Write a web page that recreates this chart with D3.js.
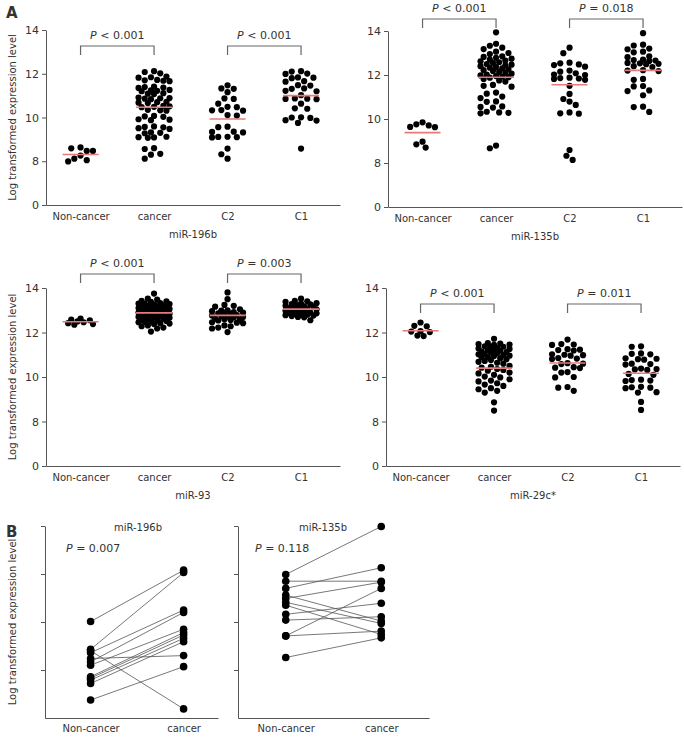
<!DOCTYPE html>
<html><head><meta charset="utf-8">
<script src="https://cdn.jsdelivr.net/npm/d3@7"></script>
<style>
body{margin:0;background:#fff}
svg{display:block}
text{font-family:"DejaVu Sans",sans-serif;fill:#333}
</style>
</head><body><svg id="c" width="684" height="740"></svg>
<script>
// ---------------- DATA ----------------
const groups = ["Non-cancer", "cancer", "C2", "C1"];
const yTickValues = [0, 8, 10, 12, 14];
const yTitle = "Log transformed expression level";

// miR-196b
const mir196b_nonCancer = [8.63, 8.59, 8.47, 8.47, 8.26, 8.12, 8.05, 7.97];
const mir196b_cancer = [12.12,12.08,12.02,11.87,11.84,11.82,11.72,11.70,11.68,11.66,11.41,11.39,11.37,11.35,11.26,11.24,11.22,11.20,11.11,11.09,11.07,10.91,10.89,10.88,10.86,10.84,10.72,10.70,10.68,10.66,10.53,10.51,10.49,10.47,10.35,10.33,10.31,10.07,10.05,10.03,9.92,9.90,9.88,9.59,9.57,9.55,9.51,9.48,9.32,9.30,9.28,9.12,9.10,9.09,9.07,8.60,8.56,8.34,8.30,8.12];
const mir196b_C2 = [11.47,11.33,11.31,11.16,10.87,10.85,10.63,10.49,10.47,10.34,10.33,10.31,10.11,10.09,9.58,9.56,9.35,9.34,9.32,9.12,9.11,9.10,9.09,8.58,8.32,8.12];
const mir196b_C1 = [12.12,12.10,12.01,11.99,11.83,11.82,11.80,11.66,11.64,11.48,11.46,11.33,11.31,11.22,11.20,11.02,10.87,10.86,10.85,10.84,10.63,10.42,10.40,10.01,10.00,9.98,9.88,9.86,9.75,8.58];
const mir196b_means = [8.31, 10.47, 9.93, 11.0];
const mir196b_p = ["< 0.001", "< 0.001"];

// miR-135b
const mir135b_nonCancer = [9.85, 9.76, 9.71, 9.64, 9.63, 8.97, 8.85, 8.70];
const mir135b_cancer = [13.94,13.42,13.33,13.24,13.18,13.06,13.00,12.95,12.85,12.82,12.78,12.74,12.70,12.66,12.62,12.58,12.55,12.50,12.47,12.44,12.40,12.36,12.33,12.30,12.26,12.22,12.18,12.14,12.10,12.06,12.02,11.98,11.95,11.92,11.90,11.88,11.82,11.75,11.70,11.55,11.51,11.47,11.20,11.15,11.02,10.95,10.80,10.78,10.57,10.55,10.52,10.33,10.30,10.28,10.26,8.79,8.67];
const mir135b_C2 = [13.24,12.99,12.56,12.53,12.48,12.45,12.38,12.20,12.15,12.08,12.02,12.00,11.88,11.86,11.84,11.82,11.78,11.51,11.14,10.91,10.79,10.64,10.30,10.26,10.24,8.59,8.33,8.14];
const mir135b_C1 = [13.90,13.38,13.34,13.20,13.17,13.06,13.03,12.85,12.81,12.70,12.68,12.66,12.64,12.55,12.53,12.51,12.49,12.40,12.36,12.22,12.20,12.18,11.82,11.78,11.50,11.48,11.30,11.27,11.08,10.56,10.54,10.32];
const mir135b_means = [9.38, 11.9, 11.56, 12.21];
const mir135b_p = ["< 0.001", "= 0.018"];

// miR-93
const mir93_nonCancer = [12.62, 12.58, 12.55, 12.50, 12.46, 12.42, 12.38, 12.35];
const mir93_cancer = [13.75,13.52,13.48,13.42,13.40,13.38,13.32,13.30,13.30,13.28,13.26,13.22,13.20,13.20,13.18,13.16,13.12,13.10,13.10,13.08,13.06,13.04,13.02,13.00,13.00,12.98,12.96,12.94,12.92,12.90,12.90,12.88,12.86,12.84,12.82,12.80,12.80,12.78,12.76,12.72,12.70,12.70,12.68,12.66,12.62,12.60,12.58,12.56,12.52,12.50,12.48,12.46,12.42,12.40,12.38,12.32,12.28,12.22,12.18,12.04];
const mir93_C2 = [13.80,13.50,13.24,13.20,13.16,13.04,13.00,12.98,12.96,12.92,12.90,12.88,12.86,12.84,12.78,12.76,12.74,12.72,12.70,12.68,12.62,12.60,12.58,12.56,12.54,12.46,12.44,12.42,12.32,12.28,12.22,12.18,12.02];
const mir93_C1 = [13.52,13.42,13.40,13.38,13.32,13.30,13.28,13.26,13.22,13.20,13.18,13.16,13.14,13.10,13.08,13.06,13.04,13.00,12.98,12.96,12.94,12.90,12.88,12.86,12.84,12.82,12.80,12.78,12.76,12.74,12.70,12.68,12.55];
const mir93_means = [12.48, 12.88, 12.77, 13.05];
const mir93_p = ["< 0.001", "= 0.003"];

// miR-29c*
const mir29c_nonCancer = [12.45, 12.30, 12.28, 12.06, 12.04, 12.02, 11.86, 11.84];
const mir29c_cancer = [11.72,11.52,11.50,11.48,11.46,11.44,11.38,11.36,11.34,11.30,11.28,11.26,11.22,11.20,11.18,11.14,11.12,11.10,11.06,11.04,11.02,10.98,10.96,10.94,10.90,10.88,10.84,10.80,10.76,10.72,10.68,10.64,10.60,10.50,10.46,10.42,10.36,10.32,10.28,10.20,10.16,10.10,10.02,9.98,9.90,9.84,9.80,9.72,9.66,9.60,9.50,9.45,9.38,9.30,8.86,8.49];
const mir29c_C2 = [11.68,11.48,11.46,11.44,11.25,11.23,11.21,11.19,11.02,11.00,10.98,10.96,10.85,10.83,10.81,10.62,10.60,10.58,10.44,10.42,10.40,10.22,10.20,10.00,9.98,9.55,9.52,9.38];
const mir29c_C1 = [11.38,11.36,11.06,11.04,11.02,10.84,10.82,10.80,10.78,10.60,10.58,10.56,10.38,10.36,10.34,10.32,10.14,10.10,9.88,9.86,9.84,9.82,9.56,9.54,9.52,9.50,9.32,9.30,8.88,8.52];
const mir29c_means = [12.08, 10.4, 10.63, 10.17];
const mir29c_p = ["< 0.001", "= 0.011"];

// Panel B paired data (unitless scale, no tick labels)
const pairedGroups = ["Non-cancer", "cancer"];
const paired196b_nonCancer = [2.01, 1.43, 1.40, 1.36, 1.24, 1.17, 1.10, 0.86, 0.83, 0.79, 0.72, 0.375];
const paired196b_cancer    = [3.08, 3.03, 0.19, 2.25, 1.30, 2.20, 1.85, 1.78, 1.73, 1.66, 1.59, 1.07];
const paired196b_p = "= 0.007";
const paired135b_nonCancer = [2.99, 2.85, 2.70, 2.56, 2.49, 2.41, 2.35, 2.16, 2.04, 1.71, 1.71, 1.26];
const paired135b_cancer    = [3.99, 2.85, 3.13, 2.02, 2.83, 1.97, 1.74, 2.39, 2.11, 2.70, 1.81, 1.67];
const paired135b_p = "= 0.118";

// ---------------- DRAWING ----------------
const svg = d3.select("#c");
const axisColor = "#555";
const meanColor = "#e77b7b";

// compact beeswarm limited to a maximum half-width (points may overlap when crowded)
function swarm(values, yScale, r, maxW) {
  const pts = values.map(v => ({v, y: yScale(v), x: 0})).sort((a, b) => a.y - b.y);
  const placed = [];
  const minD = 2 * r + 0.3;
  const step = r;
  const cands = [0];
  for (let k = 1; k * step <= maxW; k++) { cands.push(-k * step, k * step); }
  for (const p of pts) {
    let best = 0, bestD = -1;
    for (const off of cands) {
      let md = Infinity;
      for (const q of placed) {
        const dy = q.y - p.y;
        if (Math.abs(dy) >= minD) continue;
        const d = Math.hypot(q.x - off, dy);
        if (d < md) md = d;
      }
      if (md >= minD) { best = off; bestD = md; break; }
      if (md > bestD + 0.01) { bestD = md; best = off; }
    }
    p.x = best;
    placed.push(p);
  }
  return pts;
}

function pLabel(g, x, y, rest, anchor) {
  const t = g.append("text").attr("x", x).attr("y", y).attr("text-anchor", anchor || "middle")
    .style("font-size", "11px");
  t.append("tspan").style("font-style", "italic").text("P");
  t.append("tspan").text(" " + rest);
}

function scatterPanel(cfg) {
  const g = svg.append("g");
  const q = (cfg.y0 - cfg.y14) / 4;
  const y = d3.scaleLinear().domain([0, 8, 14]).range([cfg.y0, cfg.y0 - q, cfg.y14]);
  const x = d3.scalePoint().domain(groups).range([cfg.ax, cfg.ax + 294]).padding(0.5).align(0.47);

  const ya = g.append("g").attr("transform", `translate(${cfg.ax},0)`)
    .call(d3.axisLeft(y).tickValues(yTickValues).tickSize(4).tickSizeOuter(0).tickPadding(3));
  ya.select(".domain").attr("stroke", axisColor);
  ya.selectAll(".tick line").attr("stroke", axisColor);
  ya.selectAll("text").style("font-size", "11px").attr("fill", "#333").style("font-family", "'DejaVu Sans',sans-serif");

  const xa = g.append("g").attr("transform", `translate(0,${cfg.y0})`)
    .call(d3.axisBottom(x).tickSize(0).tickSizeOuter(0).tickPadding(8));
  xa.select(".domain").attr("stroke", axisColor);
  xa.selectAll("text").style("font-size", "10px").attr("fill", "#333").style("font-family", "'DejaVu Sans',sans-serif");

  cfg.series.forEach((vals, i) => {
    const pts = swarm(vals, y, 3.1, i === 0 ? 14 : 16);
    g.append("g").selectAll("circle").data(pts).join("circle")
      .attr("cx", d => x(groups[i]) + d.x).attr("cy", d => d.y).attr("r", 3.1).attr("fill", "#000");
  });
  g.append("g").selectAll("line").data(cfg.means).join("line")
    .attr("x1", (d, i) => x(groups[i]) - 18).attr("x2", (d, i) => x(groups[i]) + 18)
    .attr("y1", d => y(d)).attr("y2", d => y(d))
    .attr("stroke", meanColor).attr("stroke-width", 1.6);

  // brackets
  [[0, 1], [2, 3]].forEach((pair, k) => {
    const x1 = x(groups[pair[0]]), x2 = x(groups[pair[1]]);
    g.append("path").attr("d", `M${x1},${cfg.by + 9}V${cfg.by}H${x2}V${cfg.by + 9}`)
      .attr("fill", "none").attr("stroke", "#666").attr("stroke-width", 1.2);
    pLabel(g, (x1 + x2) / 2, cfg.by - 7, cfg.p[k]);
  });

  g.append("text").attr("x", cfg.ax + 147).attr("y", cfg.y0 + 33).attr("text-anchor", "middle")
    .style("font-size", "10px").text(cfg.name);
  if (cfg.title) {
    g.append("text").attr("transform", `translate(12,${(cfg.y0 + cfg.y14) / 2}) rotate(-90)`)
      .attr("text-anchor", "middle").attr("dy", "0.35em").style("font-size", "10px").text(yTitle);
  }
}

scatterPanel({ax: 46, y14: 30, y0: 205, by: 46, name: "miR-196b", title: true,
  series: [mir196b_nonCancer, mir196b_cancer, mir196b_C2, mir196b_C1], means: mir196b_means, p: mir196b_p});
scatterPanel({ax: 388, y14: 31, y0: 207, by: 19, name: "miR-135b", title: false,
  series: [mir135b_nonCancer, mir135b_cancer, mir135b_C2, mir135b_C1], means: mir135b_means, p: mir135b_p});
scatterPanel({ax: 46, y14: 288, y0: 466, by: 274, name: "miR-93", title: true,
  series: [mir93_nonCancer, mir93_cancer, mir93_C2, mir93_C1], means: mir93_means, p: mir93_p});
scatterPanel({ax: 386, y14: 288, y0: 466, by: 304, name: "miR-29c*", title: false,
  series: [mir29c_nonCancer, mir29c_cancer, mir29c_C2, mir29c_C1], means: mir29c_means, p: mir29c_p});

function pairedPanel(cfg) {
  const g = svg.append("g");
  const y = d3.scaleLinear().domain([0, 4]).range([718, 526]);
  const x = d3.scalePoint().domain(pairedGroups).range([cfg.ax, cfg.ax2]).padding(cfg.pad).align(cfg.align);
  const ya = g.append("g").attr("transform", `translate(${cfg.ax},0)`)
    .call(d3.axisLeft(y).tickValues([1, 2, 3, 4]).tickFormat("").tickSize(4).tickSizeOuter(0));
  ya.select(".domain").attr("stroke", axisColor);
  ya.selectAll(".tick line").attr("stroke", axisColor);
  const xa = g.append("g").attr("transform", `translate(0,718)`)
    .call(d3.axisBottom(x).tickSize(0).tickSizeOuter(0).tickPadding(7));
  xa.select(".domain").attr("stroke", axisColor);
  xa.selectAll("text").style("font-size", "10px").attr("fill", "#333").style("font-family", "'DejaVu Sans',sans-serif");

  const pairs = cfg.a.map((v, i) => [v, cfg.b[i]]);
  g.append("g").selectAll("line").data(pairs).join("line")
    .attr("x1", x(pairedGroups[0])).attr("x2", x(pairedGroups[1]))
    .attr("y1", d => y(d[0])).attr("y2", d => y(d[1]))
    .attr("stroke", "#555").attr("stroke-width", 0.8);
  g.append("g").selectAll("circle").data(cfg.a).join("circle")
    .attr("cx", x(pairedGroups[0])).attr("cy", d => y(d)).attr("r", 3.8).attr("fill", "#000");
  g.append("g").selectAll("circle").data(cfg.b).join("circle")
    .attr("cx", x(pairedGroups[1])).attr("cy", d => y(d)).attr("r", 3.8).attr("fill", "#000");

  g.append("text").attr("x", cfg.tx).attr("y", 531).attr("text-anchor", "middle")
    .style("font-size", "10px").text(cfg.name);
  pLabel(g, cfg.px, 552, cfg.p, "start");
  if (cfg.title) {
    g.append("text").attr("transform", `translate(12,622) rotate(-90)`)
      .attr("text-anchor", "middle").attr("dy", "0.35em").style("font-size", "10px").text(yTitle);
  }
}

pairedPanel({ax: 45, ax2: 218, pad: 0.43, align: 0.57, a: paired196b_nonCancer, b: paired196b_cancer,
  name: "miR-196b", tx: 138, px: 66, p: paired196b_p, title: true});
pairedPanel({ax: 238, ax2: 429, pad: 0.5, align: 0.5, a: paired135b_nonCancer, b: paired135b_cancer,
  name: "miR-135b", tx: 323, px: 255, p: paired135b_p, title: false});

svg.append("text").attr("x", 6).attr("y", 18).style("font-size", "15px").style("font-weight", "bold")
  .attr("fill", "#000").text("A");
svg.append("text").attr("x", 6).attr("y", 537).style("font-size", "15px").style("font-weight", "bold")
  .attr("fill", "#000").text("B");
</script>
</body></html>
